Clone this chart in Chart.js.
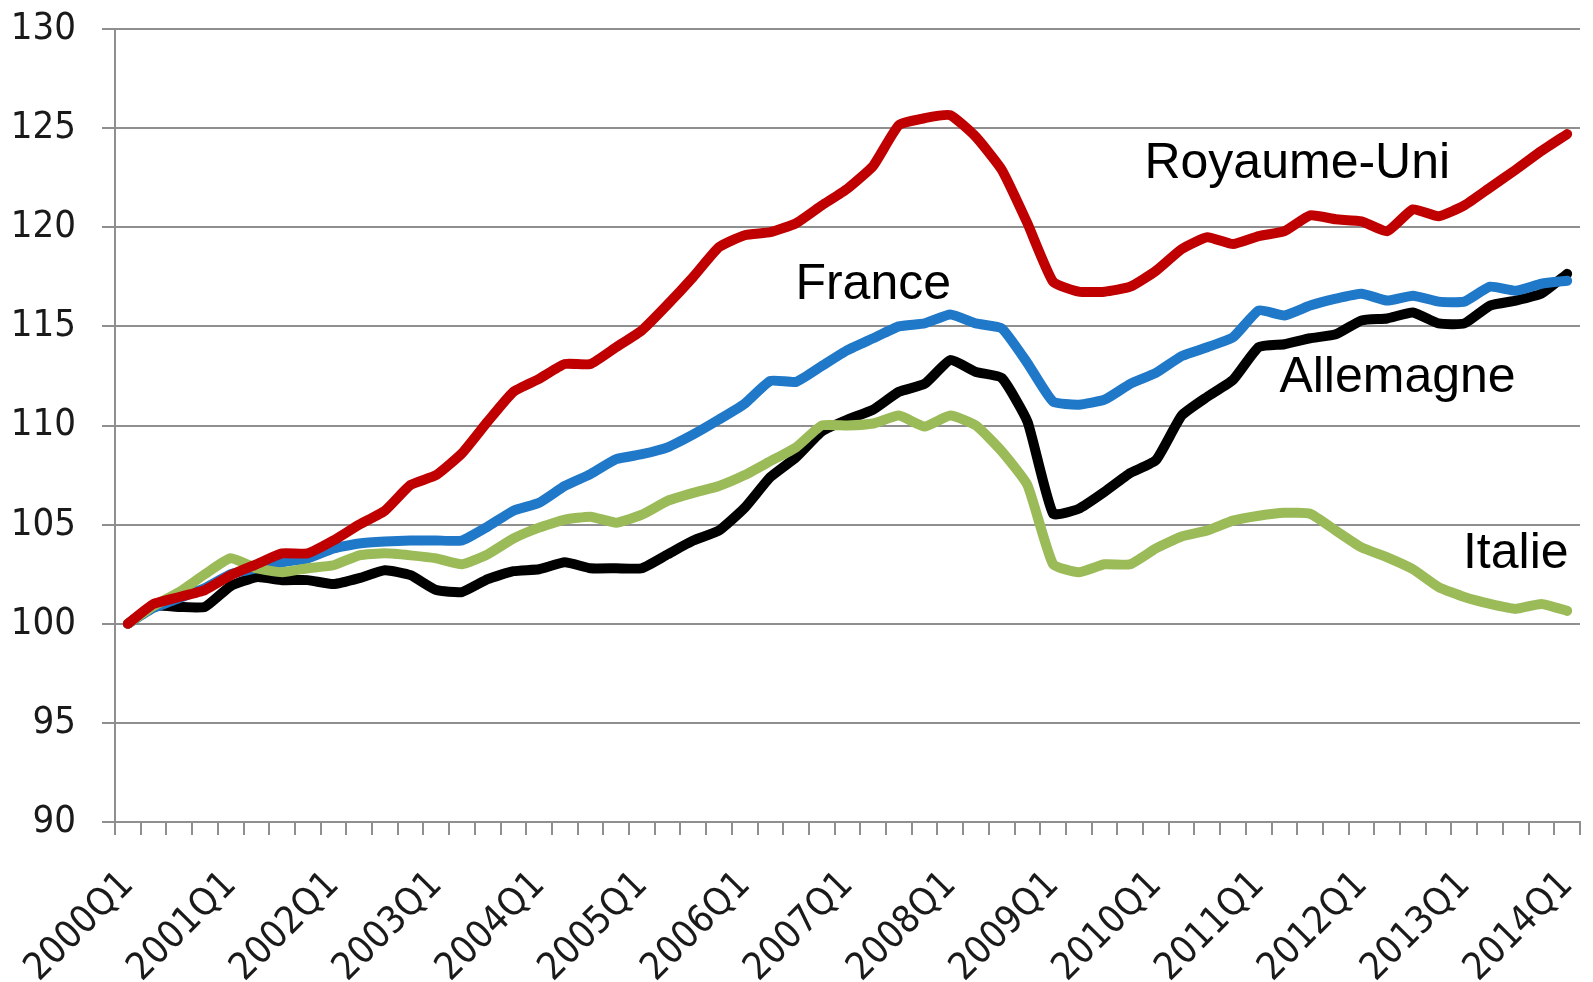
<!DOCTYPE html>
<html>
<head>
<meta charset="utf-8">
<script src="https://cdn.jsdelivr.net/npm/chart.js@4.4.1/dist/chart.umd.min.js"></script>
<style>
  html, body { margin: 0; padding: 0; background: #fff; }
  #wrap { width: 1593px; height: 982px; position: relative; }
</style>
</head>
<body>
<div id="wrap"><canvas id="chart"></canvas></div>
<script>
// quarters 2000Q1 .. 2014Q1
const quarters = []
for (let y = 2000; y <= 2014; y++) {
    for (let q = 1; q <= 4; q++) {
        if (y === 2014 && q > 1) break
        quarters.push(y + 'Q' + q)
    }
}

const royaumeUni = [100, 101.0, 101.35, 101.7, 102.45, 103.0, 103.55, 103.55, 104.2, 105.0,
    105.7, 107.0, 107.5, 108.6, 110.2, 111.7, 112.35, 113.1, 113.1, 113.95,
    114.8, 116.1, 117.5, 119.0, 119.6, 119.75, 120.2, 121.1, 121.95, 123.1,
    125.15, 125.5, 125.65, 124.55, 122.9, 120.2, 117.25, 116.75, 116.75, 117.0,
    117.8, 118.9, 119.5, 119.15, 119.55, 119.8, 120.6, 120.4, 120.3, 119.8,
    120.9, 120.55, 121.1, 122.0, 122.9, 123.85, 124.7]

const france = [100, 100.8, 101.3, 101.8, 102.5, 102.8, 103.1, 103.3, 103.8, 104.05,
    104.15, 104.2, 104.2, 104.2, 104.9, 105.7, 106.1, 106.95, 107.55, 108.3,
    108.55, 108.9, 109.55, 110.3, 111.1, 112.25, 112.2, 113.0, 113.8, 114.4,
    115.0, 115.15, 115.6, 115.15, 114.9, 113.15, 111.2, 111.05, 111.3, 112.1,
    112.65, 113.5, 113.95, 114.45, 115.8, 115.55, 116.05, 116.4, 116.65, 116.3,
    116.55, 116.25, 116.25, 117.0, 116.8, 117.15, 117.3]

const italie = [100, 100.9, 101.6, 102.5, 103.3, 102.8, 102.6, 102.8, 102.95, 103.45,
    103.55, 103.45, 103.3, 103.0, 103.5, 104.3, 104.85, 105.25, 105.4, 105.1,
    105.5, 106.2, 106.6, 106.95, 107.5, 108.2, 108.9, 110.0, 110.0, 110.1,
    110.5, 109.95, 110.5, 110.0, 108.7, 107.0, 103.0, 102.6, 103.0, 103.0,
    103.8, 104.4, 104.7, 105.2, 105.45, 105.6, 105.55, 104.7, 103.85, 103.35,
    102.75, 101.85, 101.35, 101.0, 100.75, 101.0, 100.65]

const allemagne = [100, 100.9, 100.85, 100.85, 101.9, 102.35, 102.2, 102.2, 102.0, 102.3,
    102.7, 102.45, 101.7, 101.6, 102.25, 102.65, 102.75, 103.1, 102.8, 102.8,
    102.8, 103.5, 104.2, 104.7, 105.85, 107.4, 108.4, 109.7, 110.3, 110.8,
    111.7, 112.1, 113.3, 112.7, 112.4, 110.2, 105.55, 105.8, 106.65, 107.6,
    108.25, 110.5, 111.45, 112.3, 113.95, 114.1, 114.4, 114.6, 115.3, 115.4,
    115.7, 115.15, 115.15, 116.05, 116.3, 116.65, 117.65]

// in-chart series names: text, quarter index, value
const labelNames = ['Royaume-Uni', 'France', 'Allemagne', 'Italie']
const labelQuarter = [45.5, 29.0, 49.4, 54.0]
const labelValue = [123.2, 117.1, 112.4, 103.5]

const gridGray = '#8f8f8f'
const tickFont = "'DejaVu Sans Condensed', 'DejaVu Sans', sans-serif"

const seriesLabels = {
    id: 'seriesLabels',
    afterDatasetsDraw(chart) {
        const ctx = chart.ctx
        const x = chart.scales.x
        const y = chart.scales.y
        ctx.save()
        ctx.fillStyle = '#000'
        ctx.font = "50px 'Liberation Sans', Arial, sans-serif"
        ctx.textAlign = 'center'
        ctx.textBaseline = 'middle'
        labelNames.forEach((name, i) => {
            ctx.fillText(name, x.getPixelForValue(labelQuarter[i]), y.getPixelForValue(labelValue[i]))
        })
        ctx.restore()
    }
}

function line(label, data, color) {
    return {
        label: label,
        data: data,
        borderColor: color,
        backgroundColor: color,
        borderWidth: 10,
        pointRadius: 0,
        tension: 0.15,
        borderJoinStyle: 'round',
        borderCapStyle: 'round',
        fill: false
    }
}

new Chart(document.getElementById('chart'), {
    type: 'line',
    data: {
        labels: quarters,
        datasets: [
            line('Royaume-Uni', royaumeUni, '#c00000'),
            line('Italie', italie, '#9bbb59'),
            line('France', france, '#1f78c8'),
            line('Allemagne', allemagne, '#000000')
        ]
    },
    options: {
        responsive: true,
        maintainAspectRatio: false,
        animation: false,
        layout: { padding: { top: 29, right: 13, left: 0, bottom: 0 } },
        plugins: {
            legend: { display: false },
            tooltip: { enabled: false }
        },
        scales: {
            x: {
                offset: true,
                grid: {
                    offset: true,
                    drawOnChartArea: false,
                    drawTicks: true,
                    tickLength: 13,
                    color: gridGray,
                    lineWidth: 2
                },
                border: { color: gridGray, width: 2 },
                ticks: {
                    autoSkip: false,
                    maxRotation: 45,
                    minRotation: 45,
                    padding: 28,
                    color: '#1a1a1a',
                    font: { family: tickFont, size: 38 },
                    callback: function(v, i) { return i % 4 === 0 ? quarters[i] : '' }
                },
                afterFit: function(scale) {
                    scale.height = 160
                    scale.paddingLeft = 0
                    scale.paddingRight = 0
                }
            },
            y: {
                min: 90,
                max: 130,
                grid: {
                    color: gridGray,
                    lineWidth: 2,
                    tickLength: 13
                },
                border: { color: gridGray, width: 2 },
                ticks: {
                    stepSize: 5,
                    padding: 26,
                    color: '#1a1a1a',
                    font: { family: tickFont, size: 38 }
                },
                afterFit: function(scale) {
                    scale.width = 115
                    scale.paddingTop = 0
                    scale.paddingBottom = 0
                }
            }
        }
    },
    plugins: [seriesLabels]
})
</script>
</body>
</html>
